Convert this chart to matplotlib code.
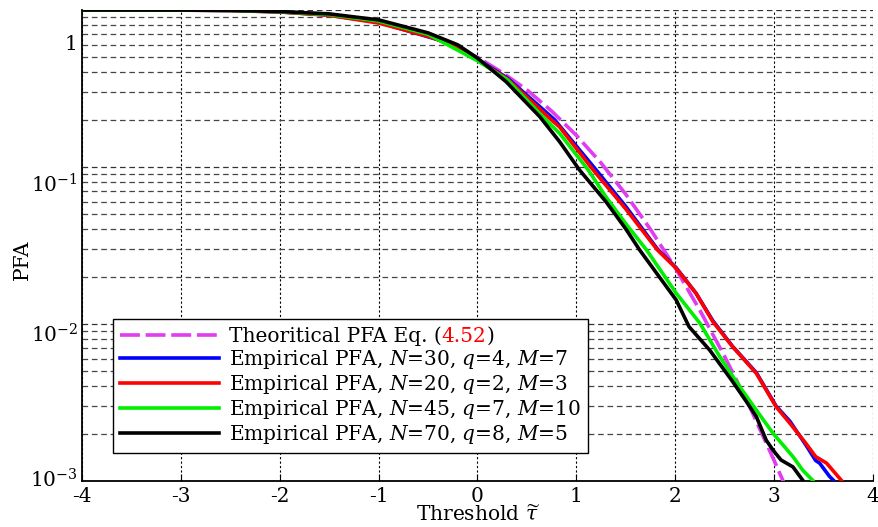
import matplotlib
matplotlib.use("Agg")
import matplotlib.pyplot as plt
import matplotlib.transforms as mtransforms
import numpy as np

plt.rcParams['font.family'] = ['DejaVu Serif']
plt.rcParams['mathtext.fontset'] = 'dejavuserif'
plt.rcParams['axes.unicode_minus'] = False

# ---- data ----
theo_x = [-4, -3, -2.5, -2, -1.5, -1, -0.5, 0, 0.25, 0.5, 0.75, 1, 1.25, 1.5, 1.75,
          2, 2.25, 2.5, 2.75, 3, 3.1]
theo_p = [1.0, 0.9987, 0.994, 0.977, 0.933, 0.841, 0.69, 0.5, 0.40, 0.31, 0.227, 0.159,
          0.106, 0.067, 0.040, 0.0228, 0.0122, 0.0062, 0.0030, 0.00135, 0.00097]

n30_x = [-4, -3, -2.5, -2, -1.5, -1, -0.5, -0.28, 0, 0.3, 0.78, 1.2, 1.5, 1.82, 2.01,
         2.21, 2.38, 2.58, 2.82, 3.02, 3.16, 3.32, 3.42, 3.46, 3.56, 3.6]
n30_p = [1.0, 0.998, 0.993, 0.973, 0.928, 0.835, 0.675, 0.615, 0.485, 0.37, 0.2, 0.0957,
         0.056, 0.030, 0.0228, 0.0157, 0.0105, 0.0072, 0.0049, 0.0030, 0.0024, 0.0017,
         0.00135, 0.0013, 0.00107, 0.00101]

n20_x = [-4, -3, -2.5, -2, -1.5, -1, -0.5, -0.28, 0, 0.3, 0.745, 0.83, 1.17, 1.5, 1.82,
         2.01, 2.21, 2.38, 2.58, 2.82, 3.02, 3.16, 3.32, 3.42, 3.53, 3.68]
n20_p = [1.0, 0.998, 0.992, 0.972, 0.925, 0.826, 0.68, 0.61, 0.48, 0.365, 0.2, 0.18,
         0.0957, 0.054, 0.0296, 0.0226, 0.0157, 0.01035, 0.00717, 0.00485, 0.00297,
         0.00233, 0.00174, 0.00143, 0.0013, 0.00101]

n45_x = [-4, -3, -2.5, -2, -1.5, -1, -0.5, 0, 0.3, 0.69, 0.83, 1.12, 1.3, 1.5, 1.71,
         2.01, 2.25, 2.45, 2.65, 2.82, 2.99, 3.19, 3.29, 3.39]
n45_p = [1.0, 0.999, 0.994, 0.975, 0.935, 0.85, 0.70, 0.475, 0.36, 0.2, 0.164, 0.0957,
         0.0644, 0.0435, 0.0296, 0.0157, 0.0101, 0.0062, 0.0040, 0.00283, 0.00201,
         0.00143, 0.00117, 0.00101]

n70_x = [-4, -3, -2.5, -2, -1.5, -1, -0.5, -0.2, 0, 0.29, 0.63, 0.83, 1.03, 1.3, 1.5,
         1.64, 2.01, 2.14, 2.35, 2.58, 2.72, 2.82, 2.92, 2.99, 3.07, 3.19, 3.29]
n70_p = [1.0, 0.999, 0.995, 0.978, 0.945, 0.865, 0.715, 0.60, 0.494, 0.349, 0.209, 0.145,
         0.096, 0.060, 0.0403, 0.0296, 0.0142, 0.0096, 0.0068, 0.0043, 0.0032, 0.00257,
         0.00182, 0.00157, 0.00136, 0.00123, 0.00101]

x_ticks = [-4, -3, -2, -1, 0, 1, 2, 3, 4]
x_tick_labels = ["-4", "-3", "-2", "-1", "0", "1", "2", "3", "4"]
y_ticks = [1e-3, 1e-2, 1e-1, 1]
y_tick_labels = [r"$10^{-3}$", r"$10^{-2}$", r"$10^{-1}$", "1"]

legend_labels = ["Theoritical PFA Eq. (",
                 r"Empirical PFA, $N$=30, $q$=4, $M$=7",
                 r"Empirical PFA, $N$=20, $q$=2, $M$=3",
                 r"Empirical PFA, $N$=45, $q$=7, $M$=10",
                 r"Empirical PFA, $N$=70, $q$=8, $M$=5"]

FS = 14.5

# ---- figure ----
fig = plt.figure(figsize=(8.79, 5.27), dpi=100)
ax = fig.add_axes([82/879, 1-481/527, 791/879, 471/527])

lw = 2.6
ax.plot(theo_x, theo_p, color='#E03CF0', lw=lw, dashes=(5.5, 1.6), label=legend_labels[0], zorder=3)
ax.plot(n30_x, n30_p, color='#0000FF', lw=lw, label=legend_labels[1], zorder=3)
ax.plot(n20_x, n20_p, color='#FF0000', lw=lw, label=legend_labels[2], zorder=3)
ax.plot(n45_x, n45_p, color='#00EE00', lw=lw, label=legend_labels[3], zorder=3)
ax.plot(n70_x, n70_p, color='#000000', lw=lw, label=legend_labels[4], zorder=3)

ax.set_yscale('log')
ax.set_xlim(-4, 4)
ax.set_ylim(1e-3, 1)

ax.set_xticks(x_ticks)
ax.set_xticklabels(x_tick_labels, fontsize=FS)
ax.set_yticks(y_ticks)
ax.set_yticklabels(y_tick_labels, fontsize=FS)
ax.yaxis.set_minor_locator(matplotlib.ticker.LogLocator(base=10, subs=np.arange(2, 10)))
ax.yaxis.set_minor_formatter(matplotlib.ticker.NullFormatter())

ax.tick_params(axis='both', which='both', direction='in', top=False, right=False)
ax.tick_params(axis='x', which='major', length=5, pad=4)
ax.tick_params(axis='y', which='major', length=0, pad=3)
ax.tick_params(axis='y', which='minor', length=0)

# grid
ax.grid(True, axis='x', which='major', color='black', linestyle=(0, (2, 2)), lw=0.8, zorder=1)
ax.grid(True, axis='y', which='major', color='#333333', linestyle=(0, (4.5, 3)), lw=0.9, zorder=1)
ax.grid(True, axis='y', which='minor', color='#444444', linestyle=(0, (4.5, 3)), lw=0.9, zorder=1)
ax.set_axisbelow(True)

for s in ['top', 'right']:
    ax.spines[s].set_visible(False)
for s in ['left', 'bottom']:
    ax.spines[s].set_linewidth(1.3)
    ax.spines[s].set_color('black')

# y tick label offsets (as in the reference export)
offsets_px = {0: 3, 1: -9, 2: -16, 3: -33}
for i, lab in enumerate(ax.get_yticklabels()):
    dy = offsets_px.get(i, 0)
    lab.set_transform(lab.get_transform() + mtransforms.ScaledTranslation(0, dy/100, fig.dpi_scale_trans))

ax.set_xlabel(r"Threshold $\widetilde{\tau}$", fontsize=FS)
ax.xaxis.set_label_coords(0.5, -0.049)
ax.set_ylabel("PFA", fontsize=FS)
ax.yaxis.set_label_coords(-0.064, 0.47)

leg = ax.legend(loc='lower left', bbox_to_anchor=(0.0392, 0.0594), borderaxespad=0,
                fontsize=FS, frameon=True, fancybox=False, edgecolor='black',
                framealpha=1, handlelength=4.9, handletextpad=0.5, borderpad=0.35,
                labelspacing=0.1)
leg.get_frame().set_linewidth(1.0)
leg.set_zorder(5)

t0 = leg.get_texts()[0]
a1 = ax.annotate("4.52", xy=(1, 0), xycoords=t0, va='bottom', ha='left',
                 color='#FF0000', fontsize=FS, zorder=6, annotation_clip=False)
a2 = ax.annotate(")", xy=(1, 0), xycoords=a1, va='bottom', ha='left',
                 color='black', fontsize=FS, zorder=6, annotation_clip=False)

fig.savefig("out.png", dpi=100)
